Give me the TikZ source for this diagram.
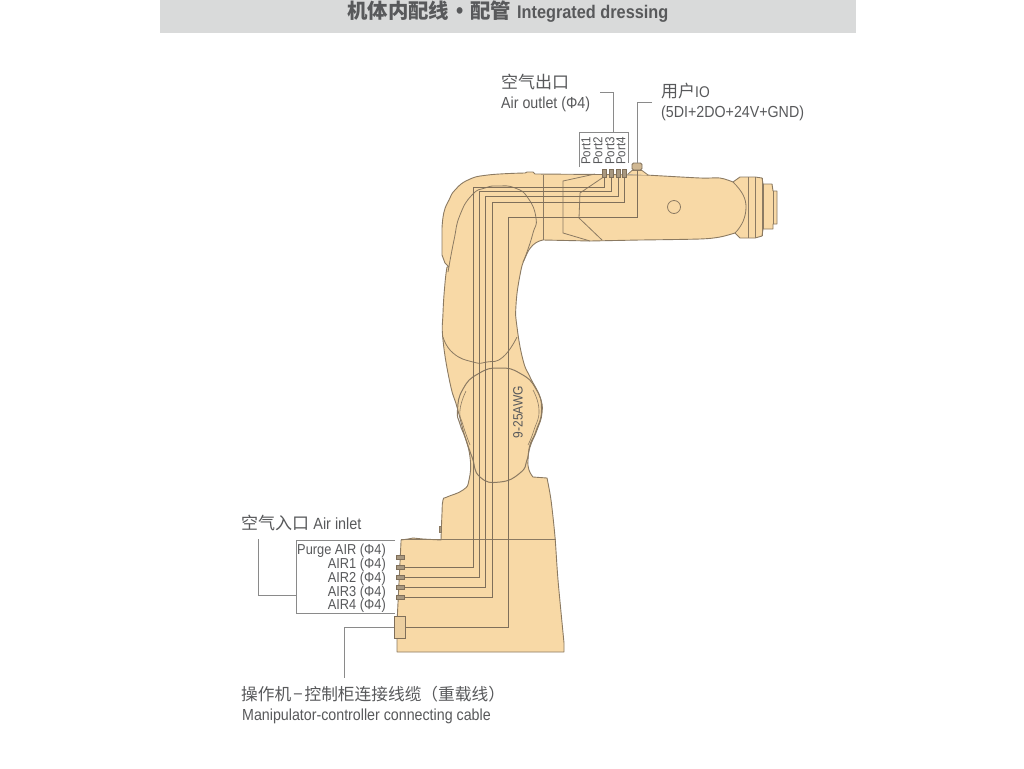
\documentclass[tikz,border=0pt]{standalone}
\usepackage{fontspec}
\setmainfont{Liberation Sans}[FakeStretch=0.89]
\newfontfamily\cjk{Noto Sans CJK SC}
\definecolor{bodyfill}{HTML}{F8D9A6}
\definecolor{bodyline}{HTML}{8B7A62}
\definecolor{wire}{HTML}{7F6F5A}
\definecolor{leader}{HTML}{8A8A8A}
\definecolor{txt}{HTML}{58595B}
\definecolor{headbg}{HTML}{D9DADA}
\definecolor{plug}{HTML}{A89880}
\tikzset{
  body/.style={fill=bodyfill,draw=bodyline,line width=0.9pt,line join=round},
  inner/.style={draw=bodyline,line width=0.8pt},
  wireline/.style={draw=wire,line width=.8pt},
  leadline/.style={draw=leader,line width=1pt},
  label/.style={inner sep=0pt,anchor=base west,text=txt},
  labelr/.style={inner sep=0pt,anchor=base east,text=txt,font=\fontsize{14.4}{14}\selectfont},
  portlab/.style={inner sep=0pt,rotate=90,text=txt,font=\fontsize{13}{13}\selectfont},
  plugh/.style={draw=wire,fill=plug,line width=0.9pt,minimum width=8pt,minimum height=4pt,inner sep=0pt},
  plugv/.style={draw=wire,fill=plug,line width=0.9pt,minimum width=4pt,minimum height=8pt,inner sep=0pt},
}
\begin{document}
\begin{tikzpicture}[x=1pt,y=-1pt]
\useasboundingbox (0,0) rectangle (1024,768);
\fill[white] (0,0) rectangle (1024,768);
\fill[headbg] (160,0) rectangle (856,33);
\node[inner sep=0pt,anchor=base west,text=txt] (head) at (347,19) {\fontsize{20.4}{20}\selectfont\bfseries{\cjk 机体内配线}\hspace{7pt}{\fontsize{23}{18}\selectfont •}\hspace{7pt}{\cjk 配管}\hspace{6pt}\fontsize{18.3}{20}\selectfont Integrated dressing};

% robot silhouette
\path[body] plot[smooth,tension=.8] coordinates {(442,228) (444,212) (449,200) (455,190) (468,180) (488,175) (525,173)}
  -- (527,172) -- (533,172) -- (535,174) -- (600,174.5) -- (646,175)
  -- plot[smooth,tension=.5] coordinates {(646,175) (700,178) (720,178) (733,182)}
  -- (740,177) -- (755,177) -- (762,178) -- (763,184) -- (772,184) -- (773,191) -- (777,191)
  -- (777,224) -- (773,224) -- (773,229) -- (763,229) -- (762,236) -- (755,238) -- (740,238) -- (735,233)
  -- plot[smooth,tension=.5] coordinates {(735,233) (720,237) (700,239) (640,240)}
  -- (590,241) -- (543,240)
  -- plot[smooth,tension=.8] coordinates {(543,240) (533,245) (525,258) (520,275) (516,305) (517,327) (523,360) (530,377) (540,397) (542,413) (537,430) (530,447) (528,460) (529,470) (533,477)}
  -- (547,478)
  -- plot[smooth,tension=.5] coordinates {(547,478) (551,500) (555,537) (558,580) (564,643)}
  -- (564,652) -- (397,652) -- (397,623) -- (401,542) -- (401,540) -- (408,539) -- (413,538) -- (423,539) -- (441,540)
  -- plot[smooth,tension=.8] coordinates {(441,540) (442,513) (443,500) (447,497) (463,490) (469,480) (470,457) (463,430) (457,407) (450,383) (443,340) (443,313) (445,283) (447,267)}
  -- (449,267) -- (445,263) -- (442,255) -- cycle;

% inner contours
\draw[inner] plot[smooth,tension=.9] coordinates {(448,272) (454,240) (460,215) (472,195) (485,188) (498,186) (515,188) (528,198) (536,218) (533,233) (527,252) (523,262)};
\draw[inner] plot[smooth,tension=.9] coordinates {(443,337) (453,353) (473,362) (487,362) (503,357) (517,337)};
\draw[inner,line width=1pt] plot[smooth cycle,tension=.9] coordinates {(499.5,368) (520.5,373.6) (536,389) (541.5,410) (536,431) (530,445) (527,460) (520,473) (500,482) (480,477) (472,457) (465,437) (460,424) (457.5,410) (463,389) (478.5,373.6)};
\draw[inner,line width=.6pt] plot[smooth,tension=.9] coordinates {(466,391) (460,410) (463,425) (470,445)};
\draw[inner,line width=.6pt] plot[smooth,tension=.9] coordinates {(533,390) (539,410) (534,430) (528,445)};
\draw[inner] (401,539) -- (556,539);
\draw[inner] (543,175) -- (543,240);
\draw[inner] (595,174) -- (563,181) -- (563,233) -- (590,241);
\draw[inner] (605,176) -- (580,193) -- (579,218) -- (602,240);
\draw[inner] (733,182) .. controls (743,192) and (746,199) .. (746,207) .. controls (746,217) and (742,226) .. (735,233);
\draw[inner] (748,177) -- (748,238);
\draw[inner] (755,177) -- (755,238);
\draw[inner] (762,178) -- (762,236);
\draw[inner] (763,184) -- (763,229);
\draw[inner] (773,191) -- (773,224);
\draw[inner] (674,207) circle[radius=6.5];
\draw[inner,fill=plug] (439,526) rectangle (441.5,532);

% connectors
\node[plugv] (p1) at (604,173) {};
\node[plugv] (p2) at (611,173) {};
\node[plugv] (p3) at (618,173) {};
\node[plugv] (p4) at (624.5,173) {};
\draw[inner,fill=bodyfill] (628,174) -- (632,170.5) -- (642,170.5) -- (648,175);
\node[draw=wire,fill=plug!50!bodyfill,line width=.9pt,rounded corners=1.5pt,minimum width=10pt,minimum height=7pt,inner sep=0pt] (io) at (637,166.5) {};
\node[plugh] (a0) at (400,557) {};
\node[plugh] (a1) at (400,567) {};
\node[plugh] (a2) at (400,577) {};
\node[plugh] (a3) at (400,587) {};
\node[plugh] (a4) at (400,597) {};
\node[draw=wire,fill=bodyfill!85!plug,line width=.9pt,minimum width=11pt,minimum height=22pt,inner sep=0pt] (cab) at (399.5,627) {};

% wiring
\coordinate (w1) at (473,187); \coordinate (w2) at (479,191); \coordinate (w3) at (485,196);
\coordinate (w4) at (492,202); \coordinate (w5) at (508,217);
\draw[wireline] (a1.east) -| (w1) -| (p1.south);
\draw[wireline] (a2.east) -| (w2) -| (p2.south);
\draw[wireline] (a3.east) -| (w3) -| (p3.south);
\draw[wireline] (a4.east) -| (w4) -| (p4.south);
\draw[wireline] (cab.east) -| (w5) -| (io.south);

% labels
\node[label,font=\fontsize{17}{17}\selectfont\cjk] (outcn) at (501,88) {空气出口};
\node[label,font=\fontsize{16}{16}\selectfont] (outen) at (501,108) {Air outlet (Φ4)};
\node[label,font=\fontsize{17}{17}\selectfont] (iocn) at (661,97) {{\cjk 用户}\fontsize{15.5}{15}\selectfont IO};
\node[label,font=\fontsize{16}{16}\selectfont] (ioen) at (661,117) {(5DI+2DO+24V+GND)};
\node[portlab] (port1) at (586,151) {Port1};
\node[portlab] (port2) at (598,151) {Port2};
\node[portlab] (port3) at (610,151) {Port3};
\node[portlab] (port4) at (621,151) {Port4};
\coordinate (bxa) at (579,167); \coordinate (bxb) at (579,132); \coordinate (bxc) at (628,132); \coordinate (bxd) at (628,163);
\draw[leadline,line width=.8pt] (bxa) -- (bxb) -- (bxc) -- (bxd);
\coordinate (ola) at (600,92); \coordinate (olb) at (613,92); \coordinate (olc) at (613,132);
\draw[leadline] (ola) -- (olb) -- (olc);
\coordinate (ioa) at (652,102);
\draw[leadline] (ioa) -| (io.north);

\node[label,font=\fontsize{17}{17}\selectfont] (incn) at (241,529) {{\cjk 空气入口} \fontsize{16.2}{14}\selectfont Air inlet};
\node[labelr] (l0) at (386,554) {Purge AIR (Φ4)};
\node[labelr] (l1) at (386,568) {AIR1 (Φ4)};
\node[labelr] (l2) at (386,582) {AIR2 (Φ4)};
\node[labelr] (l3) at (386,596) {AIR3 (Φ4)};
\node[labelr] (l4) at (386,609) {AIR4 (Φ4)};
\coordinate (ba) at (395,540); \coordinate (bb) at (296.5,540); \coordinate (bc) at (296.5,613); \coordinate (bd) at (395,613);
\draw[leadline] (ba) -- (bb) -- (bc) -- (bd);
\coordinate (bm) at (296.5,595); \coordinate (ta) at (258,539);
\draw[leadline] (bm) -| (ta);
\coordinate (cb) at (344,678);
\draw[leadline] (cab.west) -| (cb);
\node[label,font=\fontsize{16.7}{17}\selectfont\cjk] (cabcn) at (241,700) {操作机\hspace{2pt}−\hspace{2pt}控制柜连接线缆（重载线）};
\node[label,font=\fontsize{16}{14}\selectfont] (caben) at (242,720) {Manipulator-controller connecting cable};
\node[inner sep=0pt,rotate=90,text=txt,font=\fontsize{13.5}{14}\selectfont] (awg) at (518,412) {9-25AWG};
\end{tikzpicture}
\end{document}
